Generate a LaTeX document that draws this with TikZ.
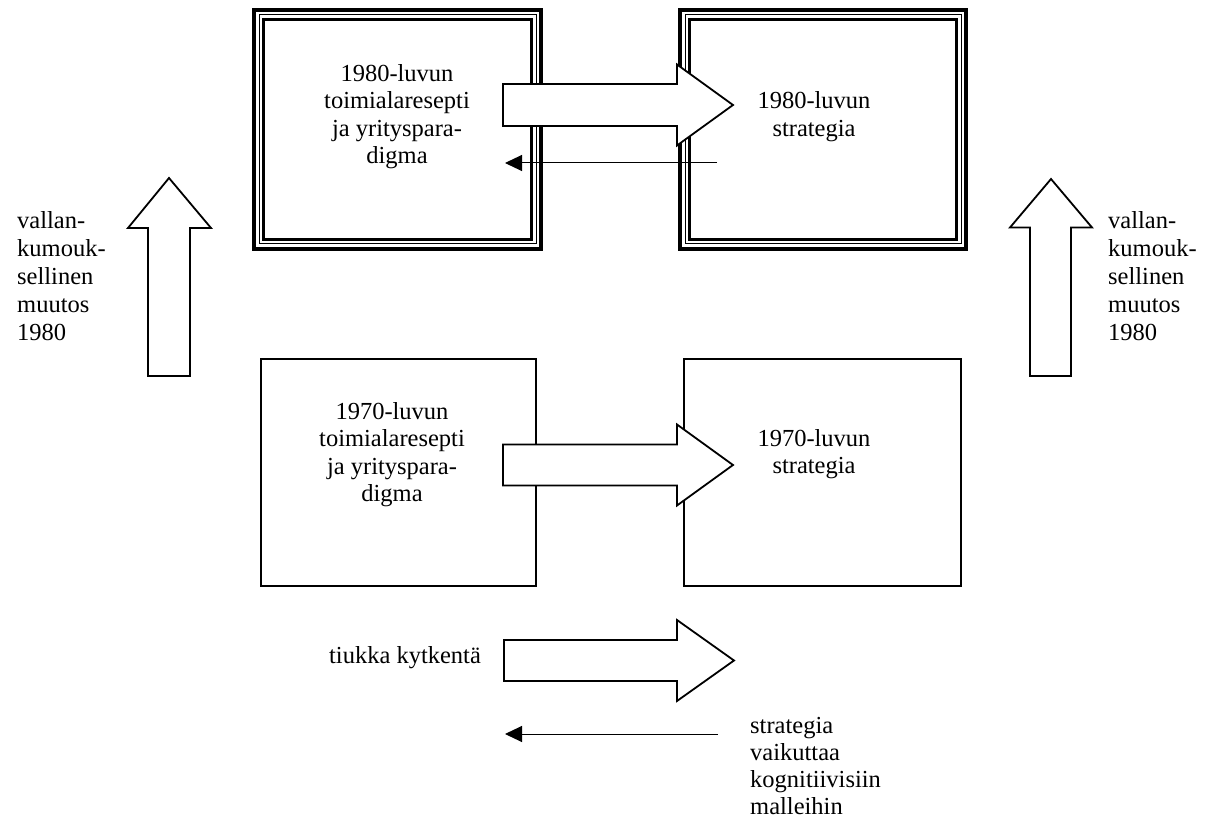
\documentclass[tikz,border=0pt]{standalone}
\usepackage{fontspec}
\setmainfont{Liberation Serif}
\usetikzlibrary{arrows.meta,calc}
\begin{document}
\begin{tikzpicture}[x=1pt,y=-1pt,
  lbl/.style={font=\fontsize{24.5}{27.5}\selectfont, inner sep=0pt, align=center},
  sidelbl/.style={font=\fontsize{24.5}{28}\selectfont, inner sep=0pt, align=left, anchor=west},
  tribox/.style={draw, line width=4pt, inner sep=0pt, outer sep=0pt,
    minimum height=239pt},
  plainbox/.style={draw, line width=1.8pt, inner sep=0pt, outer sep=0pt,
    minimum height=227.2pt, minimum width=275.2pt},
  blockarrow/.style={draw, fill=white, line width=1.8pt, line join=miter},
  thinarrow/.style={line width=1pt, -{Triangle[length=17pt,width=16pt]}}]
\useasboundingbox (0,0) rectangle (1205,821);

% 1980s boxes with a triple frame
\node[tribox, minimum width=287pt] (tl) at (397.5,129.5) {};
\node[tribox, minimum width=286pt] (tr) at (823,129.5) {};
\foreach \b in {tl,tr} {
  \draw[line width=1pt] ($(\b.north west)+(5,5)$) rectangle ($(\b.south east)+(-5,-5)$);
  \draw[line width=3pt] ($(\b.north west)+(9.5,9.5)$) rectangle ($(\b.south east)+(-9.5,-9.5)$);
}

% 1970s boxes
\node[plainbox] (bl) at (398.5,472.5) {};
\node[plainbox, minimum width=277.2pt] (br) at (822.5,472.5) {};

% box texts
\node[lbl] (tltext) at (397,116.5) {1980-luvun\\toimialaresepti\\ja yrityspara-\\digma};
\node[lbl] (trtext) at (814,116.5) {1980-luvun\\strategia};
\node[lbl] (bltext) at (392,454.5) {1970-luvun\\toimialaresepti\\ja yrityspara-\\digma};
\node[lbl] (brtext) at (814,454) {1970-luvun\\strategia};

% side labels
\node[sidelbl] (lefttext) at (17,276) {vallan-\\kumouk-\\sellinen\\muutos\\1980};
\node[sidelbl] (righttext) at (1108,276) {vallan-\\kumouk-\\sellinen\\muutos\\1980};

% legend labels
\node[lbl] (tight) at (405,658) {tiukka kytkentä};
\node[sidelbl, font=\fontsize{24.5}{27}\selectfont] (feedback) at (750,766)
  {strategia\\vaikuttaa\\kognitiivisiin\\malleihin};

% block arrows, right-pointing
\draw[blockarrow] (503,84) -- (677,84) -- (677,64.5) -- (733,105) -- (677,145.5)
  -- (677,126) -- (503,126) -- cycle;
\draw[blockarrow] (503,444.5) -- (677,444.5) -- (677,424.5) -- (733,465) -- (677,505.5)
  -- (677,485.5) -- (503,485.5) -- cycle;
\draw[blockarrow] (504,640) -- (677,640) -- (677,620) -- (734,660.5) -- (677,701)
  -- (677,681) -- (504,681) -- cycle;

% block arrows, upward
\draw[blockarrow] (148,376) -- (148,228) -- (128,228) -- (169,178) -- (211,228)
  -- (190,228) -- (190,376) -- cycle;
\draw[blockarrow] (1030,376) -- (1030,227.5) -- (1010,227.5) -- (1051,179) -- (1092,227.5)
  -- (1071,227.5) -- (1071,376) -- cycle;

% thin feedback arrows
\coordinate (fbs1) at (717,163);
\coordinate (fbe1) at (505,163);
\coordinate (fbs2) at (718,734);
\coordinate (fbe2) at (505,734);
\draw[thinarrow] (fbs1) -- (fbe1);
\draw[thinarrow] (fbs2) -- (fbe2);
\end{tikzpicture}
\end{document}
